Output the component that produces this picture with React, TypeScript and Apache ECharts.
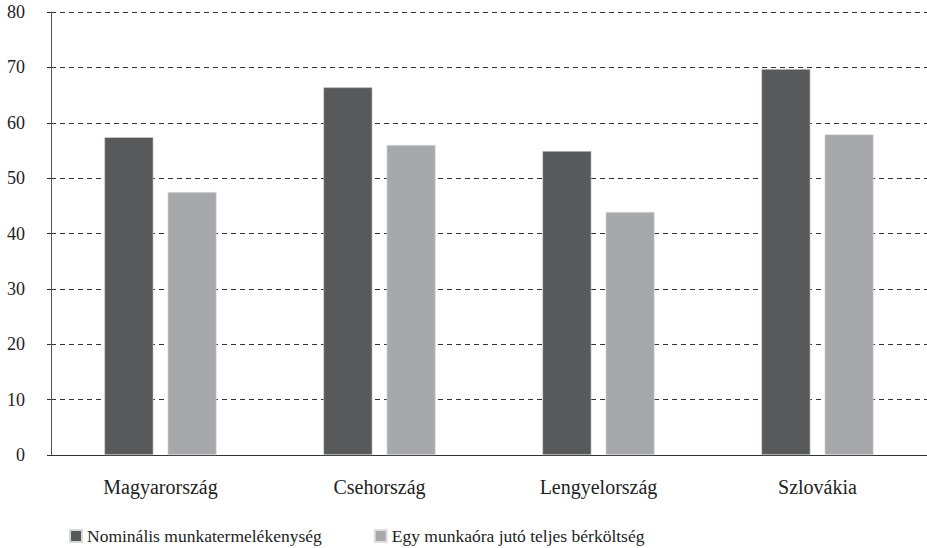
import React, { useEffect, useRef } from "react";
import * as echarts from "echarts";

const categories = ["Magyarország", "Csehország", "Lengyelország", "Szlovákia"];
const seriesNames = ["Nominális munkatermelékenység", "Egy munkaóra jutó teljes bérköltség"];
const productivity = [57.4, 66.4, 54.9, 69.7];
const laborCost = [47.5, 56.0, 43.9, 57.9];
const yTicks = { min: 0, max: 80, interval: 10 };

const FONT = "Times New Roman";

export default function App() {
  const ref = useRef<HTMLDivElement>(null);
  useEffect(() => {
    if (!ref.current) return;
    const chart = echarts.init(ref.current, undefined, { renderer: "svg" });
    chart.setOption({
      animation: false,
      backgroundColor: "#ffffff",
      textStyle: { fontFamily: FONT, fontWeight: "normal" },
      grid: { left: 51, right: 0, top: 12, bottom: 93, containLabel: false },
      legend: {
        left: 64,
        top: 522,
        itemWidth: 12,
        itemHeight: 12,
        itemGap: 52,
        icon: "rect",
        textStyle: { fontFamily: FONT, fontWeight: "normal", fontSize: 17.5, color: "#222" },
        data: seriesNames,
      },
      xAxis: {
        type: "category",
        data: categories,
        axisLine: { show: true, lineStyle: { color: "#333", width: 1 } },
        axisTick: { show: false },
        axisLabel: { fontFamily: FONT, fontWeight: "normal", fontSize: 20, color: "#222", margin: 22 },
      },
      yAxis: {
        type: "value",
        min: yTicks.min,
        max: yTicks.max,
        interval: yTicks.interval,
        axisLine: { show: true, lineStyle: { color: "#555", width: 1 } },
        axisTick: { show: true, length: 4, lineStyle: { color: "#333" } },
        axisLabel: { fontFamily: FONT, fontWeight: "normal", fontSize: 18, color: "#222", margin: 26 },
        splitLine: {
          show: true,
          lineStyle: { color: "#333", type: [5, 4], width: 1 },
        },
      },
      series: [
        {
          name: seriesNames[0],
          type: "bar",
          data: productivity,
          barWidth: 49,
          barGap: "29%",
          itemStyle: { color: "#58595b", borderColor: "#d8d8d8", borderWidth: 0.6 },
        },
        {
          name: seriesNames[1],
          type: "bar",
          data: laborCost,
          barWidth: 49,
          barGap: "29%",
          itemStyle: { color: "#a7a8ab", borderColor: "#e0e0e0", borderWidth: 0.6 },
        },
      ],
    });
    return () => chart.dispose();
  }, []);
  return (
    <div
      ref={ref}
      style={{ position: "absolute", left: 0, top: 0, width: 927, height: 548 }}
    />
  );
}
